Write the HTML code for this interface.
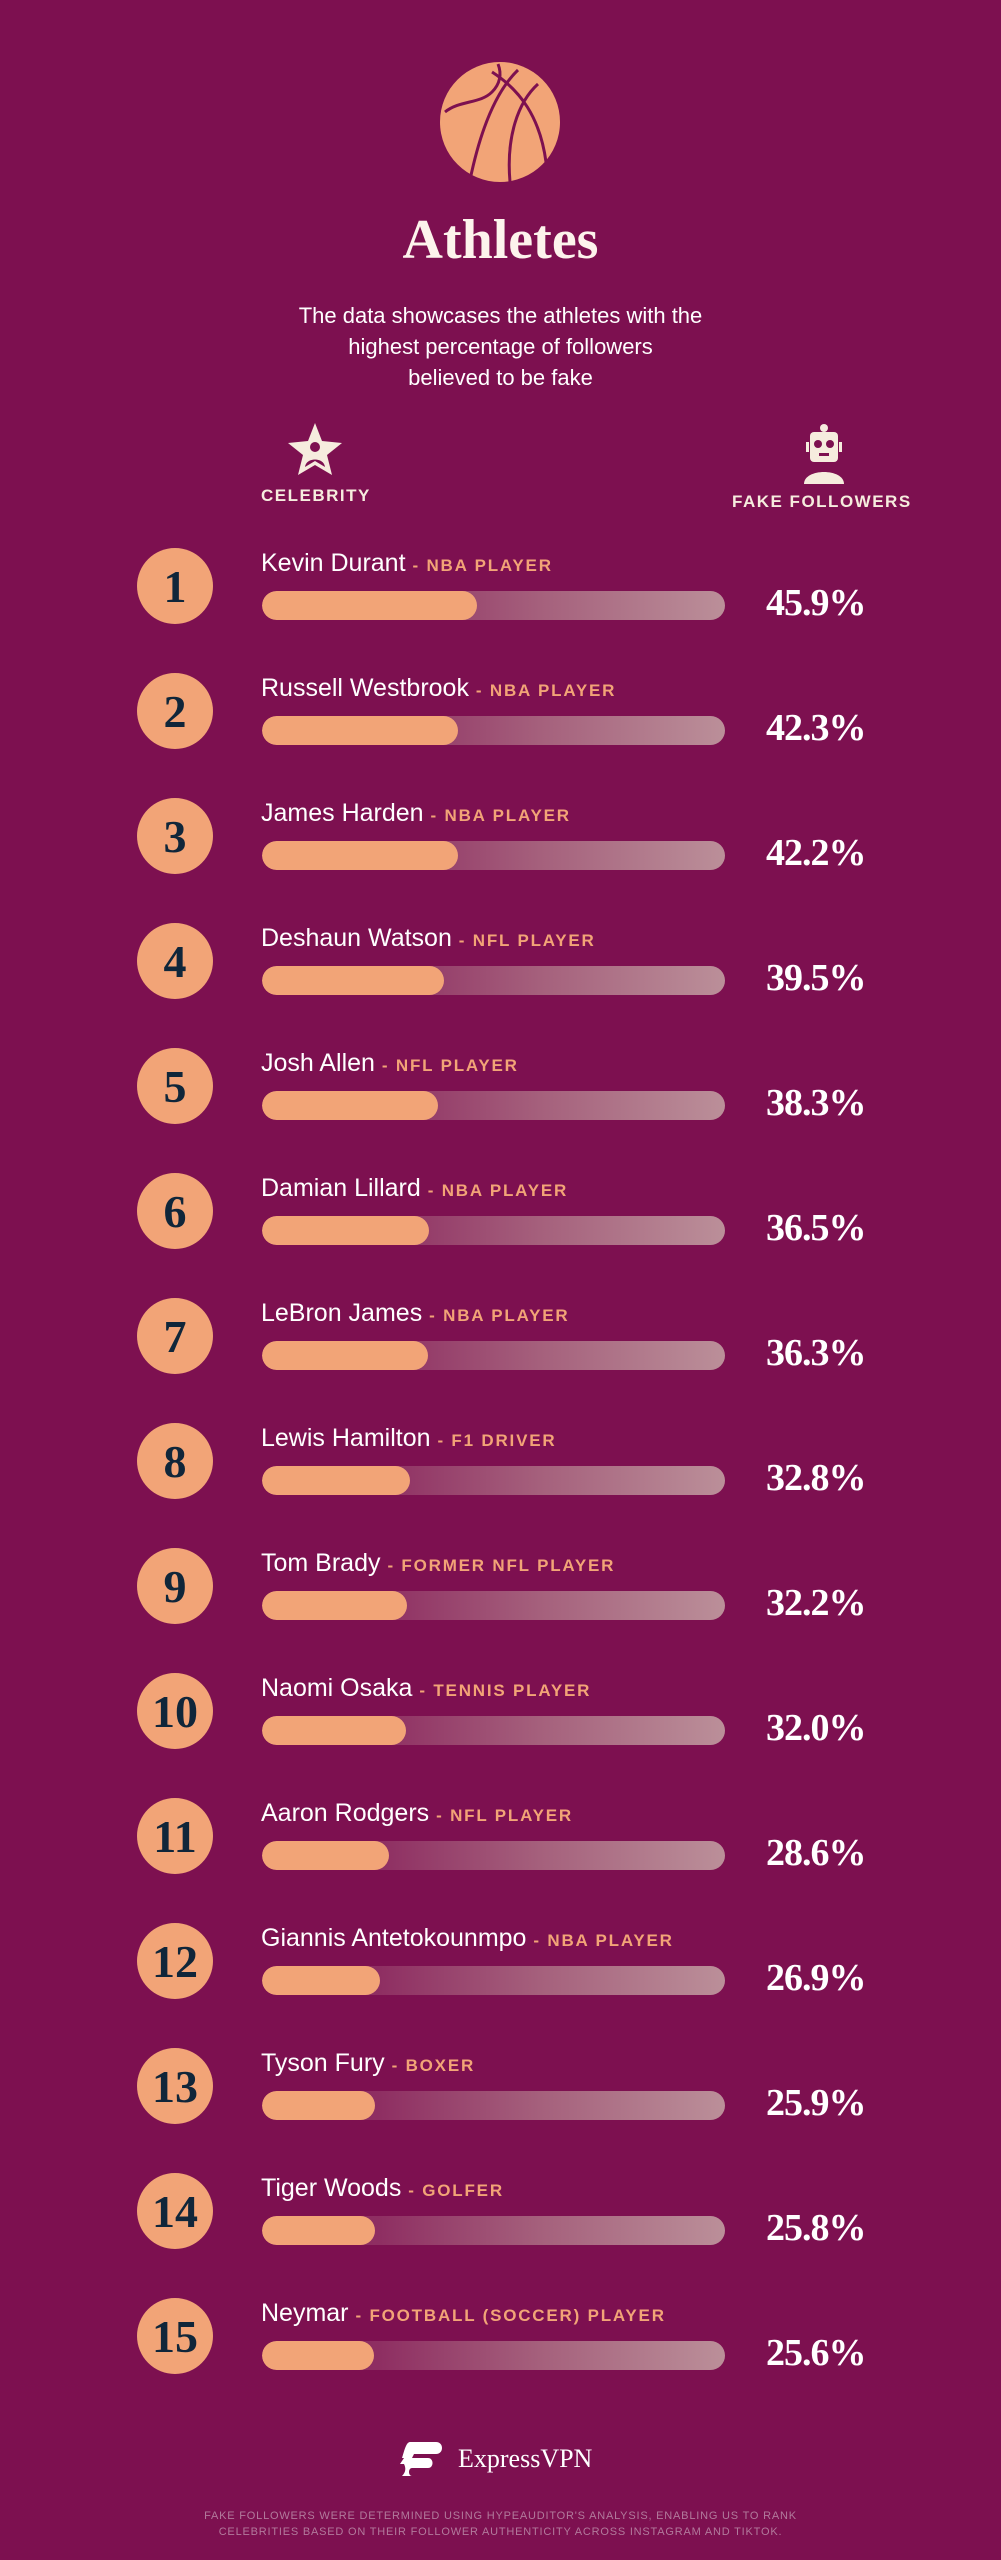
<!DOCTYPE html>
<html><head><meta charset="utf-8"><style>
*{margin:0;padding:0;box-sizing:border-box}
body{width:1001px;height:2560px;background:#7d1050;position:relative;overflow:hidden;font-family:"Liberation Sans",sans-serif;color:#fff}
.a{position:absolute}
.title{left:0;width:1001px;top:208px;text-align:center;font-family:"Liberation Serif",serif;font-weight:bold;font-size:56px;color:#fdf3ec}
.sub{left:0;width:1001px;top:300px;text-align:center;font-size:22px;line-height:31px;color:#fff}
.hdr{font-weight:bold;font-size:17px;letter-spacing:1.5px;color:#f6ecde}
.circ{left:137px;width:76px;height:76px;border-radius:50%;background:#f2a477;color:#10263a;font-family:"Liberation Serif",serif;font-weight:bold;font-size:46px;text-align:center;line-height:78px}
.name{left:261px;font-size:25px;line-height:28px;color:#fff;white-space:nowrap}
.name b{font-size:17px;letter-spacing:1.8px;color:#f2a477}
.bar{left:262px;width:463px;height:29px;border-radius:15px;background:linear-gradient(90deg,#86205a 0%,#8e2e62 25%,#a5607c 60%,#bb8f99 100%);overflow:hidden}
.fill{position:absolute;left:0;top:0;height:29px;border-radius:15px;background:#f2a477}
.pct{left:766px;font-family:"Liberation Serif",serif;font-weight:bold;font-size:38px;line-height:40px;color:#fff;letter-spacing:-1px}
.foot{left:0;width:1001px;top:2508px;text-align:center;font-size:11px;line-height:16px;letter-spacing:0.8px;color:#b27a9c}
</style></head><body>
<svg class="a" style="left:440px;top:62px" width="120" height="120" viewBox="0 0 120 120">
<circle cx="60" cy="60" r="60" fill="#f2a477"/>
<g fill="none" stroke="#7d1050" stroke-width="3">
<path d="M5 50 C20 38 40 42 52 30 C60 22 62 12 58 2"/>
<path d="M52 10 C80 28 100 55 106 100"/>
<path d="M78 8 C55 30 40 70 30 118"/>
<path d="M98 22 C78 40 66 75 70 120"/>
</g></svg>
<div class="a title">Athletes</div>
<div class="a sub">The data showcases the athletes with the<br>highest percentage of followers<br>believed to be fake</div>
<svg class="a" style="left:286px;top:423px" width="58" height="54" viewBox="0 0 58 54">
<polygon points="29,0 36,18 56,20 41,32 46,52 29,42 12,52 17,32 2,20 22,18" fill="#f6ecde"/>
<circle cx="29" cy="24" r="5" fill="#7d1050"/><path d="M19 44 C20 34 38 34 39 44 L29 38Z" fill="#7d1050"/>
</svg>
<svg class="a" style="left:800px;top:424px" width="48" height="60" viewBox="0 0 48 60">
<circle cx="24" cy="4" r="4" fill="#f6ecde"/><rect x="10" y="8" width="28" height="30" rx="4" fill="#f6ecde"/>
<rect x="6" y="18" width="3" height="10" fill="#f6ecde"/><rect x="39" y="18" width="3" height="10" fill="#f6ecde"/>
<circle cx="18" cy="20" r="4" fill="#7d1050"/><circle cx="30" cy="20" r="4" fill="#7d1050"/><rect x="19" y="29" width="10" height="3" fill="#7d1050"/>
<path d="M4 60 C4 44 44 44 44 60Z" fill="#f6ecde"/>
</svg>
<div class="a hdr" style="left:261px;top:486px">CELEBRITY</div>
<div class="a hdr" style="left:732px;top:492px">FAKE FOLLOWERS</div>

<div id="rows"></div>
<script>
var d=[["Kevin Durant","NBA PLAYER","45.9"],["Russell Westbrook","NBA PLAYER","42.3"],["James Harden","NBA PLAYER","42.2"],["Deshaun Watson","NFL PLAYER","39.5"],["Josh Allen","NFL PLAYER","38.3"],["Damian Lillard","NBA PLAYER","36.5"],["LeBron James","NBA PLAYER","36.3"],["Lewis Hamilton","F1 DRIVER","32.8"],["Tom Brady","FORMER NFL PLAYER","32.2"],["Naomi Osaka","TENNIS PLAYER","32.0"],["Aaron Rodgers","NFL PLAYER","28.6"],["Giannis Antetokounmpo","NBA PLAYER","26.9"],["Tyson Fury","BOXER","25.9"],["Tiger Woods","GOLFER","25.8"],["Neymar","FOOTBALL (SOCCER) PLAYER","25.6"]];
var h="";
for(var i=0;i<d.length;i++){var y=563+i*125;var w=Math.round(5.07*parseFloat(d[i][2])-18);
h+='<div class="a circ" style="top:'+(y-15)+'px">'+(i+1)+'</div>';
h+='<div class="a name" style="top:'+(y-14)+'px">'+d[i][0]+' <b>- '+d[i][1]+'</b></div>';
h+='<div class="a bar" style="top:'+(y+28)+'px"><div class="fill" style="width:'+w+'px"></div></div>';
h+='<div class="a pct" style="top:'+(y+20)+'px">'+d[i][2]+'%</div>';}
document.getElementById("rows").innerHTML=h;
</script>
<svg class="a" style="left:398px;top:2442px" width="48" height="34" viewBox="0 0 48 34">
<path d="M12 0 H38 C46 0 46 12 38 12 H16 L14 16 H30 C36 16 36 26 30 26 H14 C10 26 10 34 14 34 H4 C8 30 8 26 6 22 H2 L6 16 H4 C6 10 8 0 12 0Z" fill="#fff"/>
</svg>
<div class="a" style="left:458px;top:2444px;font-family:'Liberation Serif',serif;font-size:26px;color:#fff">ExpressVPN</div>
<div class="a foot">FAKE FOLLOWERS WERE DETERMINED USING HYPEAUDITOR'S ANALYSIS, ENABLING US TO RANK<br>CELEBRITIES BASED ON THEIR FOLLOWER AUTHENTICITY ACROSS INSTAGRAM AND TIKTOK.</div>
</body></html>
